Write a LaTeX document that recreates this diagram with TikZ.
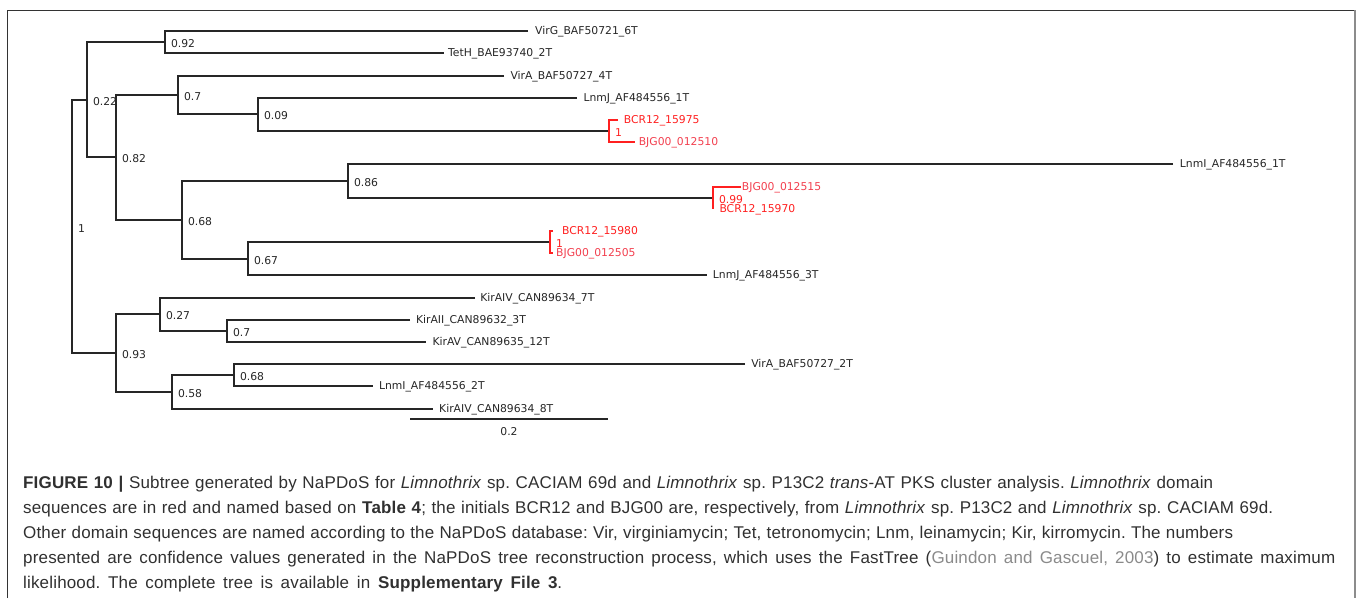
\documentclass[tikz,border=0pt]{standalone}
\usepackage{fontspec}
\setmainfont{Liberation Sans}[LetterSpace=1.0]
\newfontfamily\treefont{DejaVu Sans}
\definecolor{treeblack}{HTML}{262626}
\definecolor{treered}{HTML}{FF2020}
\definecolor{treepink}{HTML}{F2404F}
\definecolor{captxt}{HTML}{303030}
\definecolor{citegray}{HTML}{8A8A8A}
\definecolor{framedark}{HTML}{333333}
\definecolor{framegray}{HTML}{8C8C8C}
\hbadness=10000
\hfuzz=20pt
\frenchspacing
\begin{document}
\begin{tikzpicture}[x=1pt,y=-1pt,
  br/.style={draw=treeblack, line width=2pt},
  rbr/.style={draw=treered, line width=2pt},
  tlab/.style={font=\treefont\fontsize{10.8}{12}\selectfont, anchor=west, inner sep=0pt, text height=7.9pt, text depth=0pt, text=treeblack},
  rlab/.style={tlab, text=treered},
  plab/.style={tlab, text=treepink},
  sup/.style={tlab, xshift=5.8pt, yshift=-1.2pt},
  rsup/.style={sup, text=treered},
  caplab/.style={anchor=base west, inner sep=0pt, font=\fontsize{17}{25}\selectfont\frenchspacing, text=captxt}
]
\useasboundingbox (0,0) rectangle (1358,598);
% frame
\draw[draw=framedark, line width=1pt] (7.5,598) -- (7.5,10.5) -- (1355,10.5);
\draw[draw=framegray, line width=2pt] (1355,10) -- (1355,598);

% internal nodes
\coordinate (root) at (72,227);
\coordinate (n022) at (87,100);
\coordinate (n092) at (165,42);
\coordinate (n082) at (116,157);
\coordinate (n07) at (178,95);
\coordinate (n009) at (258,114);
\coordinate (nA) at (609,131);
\coordinate (n068) at (182,220);
\coordinate (n086) at (348,181);
\coordinate (nB) at (713,198);
\coordinate (n067) at (248,259);
\coordinate (nC) at (550,242);
\coordinate (n093) at (116,353);
\coordinate (n027) at (160,314);
\coordinate (n07b) at (227,331);
\coordinate (n058) at (172,392);
\coordinate (n068b) at (234,375);

% leaf branch ends
\coordinate (e0) at (528,31);
\coordinate (e1) at (444,53);
\coordinate (e2) at (504,76);
\coordinate (e3) at (577,98);
\coordinate (e4) at (618,120);
\coordinate (e5) at (635,142);
\coordinate (e6) at (1173,164);
\coordinate (e7) at (741,187);
\coordinate (e8) at (713,209);
\coordinate (e9) at (553,231);
\coordinate (e10) at (553,253);
\coordinate (e11) at (707,275);
\coordinate (e12) at (475,298);
\coordinate (e13) at (410,320);
\coordinate (e14) at (426,342);
\coordinate (e15) at (745,364);
\coordinate (e16) at (373,386);
\coordinate (e17) at (433,409);

% leaf labels
\node[tlab] (t0) at (535,31) {VirG\_BAF50721\_6T};
\node[tlab] (t1) at (448,53) {TetH\_BAE93740\_2T};
\node[tlab] (t2) at (510.3,76) {VirA\_BAF50727\_4T};
\node[tlab] (t3) at (583.3,98) {LnmJ\_AF484556\_1T};
\node[rlab] (t4) at (623.6,120) {BCR12\_15975};
\node[plab] (t5) at (638.6,142) {BJG00\_012510};
\node[tlab] (t6) at (1179.7,164) {LnmI\_AF484556\_1T};
\node[plab] (t7) at (741.7,187) {BJG00\_012515};
\node[rlab] (t8) at (719.3,209) {BCR12\_15970};
\node[rlab] (t9) at (562,231) {BCR12\_15980};
\node[plab] (t10) at (556,253) {BJG00\_012505};
\node[tlab] (t11) at (712.7,275) {LnmJ\_AF484556\_3T};
\node[tlab] (t12) at (480.1,298) {KirAIV\_CAN89634\_7T};
\node[tlab] (t13) at (415.8,320) {KirAII\_CAN89632\_3T};
\node[tlab] (t14) at (432.3,342) {KirAV\_CAN89635\_12T};
\node[tlab] (t15) at (751.1,364) {VirA\_BAF50727\_2T};
\node[tlab] (t16) at (378.8,386) {LnmI\_AF484556\_2T};
\node[tlab] (t17) at (439,409) {KirAIV\_CAN89634\_8T};

% branches
\draw[br] (e0) -| (n092) |- (e1);
\draw[br] (e3) -| (n009) |- (nA);
\draw[rbr] (e4) -| (nA) |- (e5);
\draw[br] (e2) -| (n07) |- (n009);
\draw[br] (n07) -| (n082) |- (n068);
\draw[br] (n092) -| (n022) |- (n082);
\draw[br] (e6) -| (n086) |- (nB);
\draw[rbr] (e7) -| (nB) |- (e8);
\draw[br] (nC) -| (n067) |- (e11);
\draw[rbr] (e9) -| (nC) |- (e10);
\draw[br] (n086) -| (n068) |- (n067);
\draw[br] (e12) -| (n027) |- (n07b);
\draw[br] (e13) -| (n07b) |- (e14);
\draw[br] (e15) -| (n068b) |- (e16);
\draw[br] (n068b) -| (n058) |- (e17);
\draw[br] (n027) -| (n093) |- (n058);
\draw[br] (n022) -| (root) |- (n093);

% support values
\node[sup] (lroot) at (root) {1};
\node[sup] (l022) at (n022) {0.22};
\node[sup] (l092) at (n092) {0.92};
\node[sup] (l082) at (n082) {0.82};
\node[sup] (l07) at (n07) {0.7};
\node[sup] (l009) at (n009) {0.09};
\node[rsup] (lA) at (nA) {1};
\node[sup] (l068) at (n068) {0.68};
\node[sup] (l086) at (n086) {0.86};
\node[rsup] (lB) at (nB) {0.99};
\node[sup] (l067) at (n067) {0.67};
\node[rsup] (lC) at (nC) {1};
\node[sup] (l093) at (n093) {0.93};
\node[sup] (l027) at (n027) {0.27};
\node[sup] (l07b) at (n07b) {0.7};
\node[sup] (l058) at (n058) {0.58};
\node[sup] (l068b) at (n068b) {0.68};

% scale bar
\coordinate (sb0) at (410,419);
\coordinate (sb1) at (608,419);
\draw[br] (sb0) -- (sb1);
\node[tlab, anchor=center] (sbl) at (509,431.5) {0.2};

% caption
\node[caplab] (c1) at (23,488) {\hbox to 1190pt{\textbf{FIGURE 10 |} Subtree generated by NaPDoS for \textit{Limnothrix} sp. CACIAM 69d and \textit{Limnothrix} sp. P13C2 \textit{trans}-AT PKS cluster analysis. \textit{Limnothrix} domain}};
\node[caplab] (c2) at (23,513) {\hbox to 1250pt{sequences are in red and named based on \textbf{Table 4}; the initials BCR12 and BJG00 are, respectively, from \textit{Limnothrix} sp. P13C2 and \textit{Limnothrix} sp. CACIAM 69d.}};
\node[caplab] (c3) at (23,538) {\hbox to 1210pt{Other domain sequences are named according to the NaPDoS database: Vir, virginiamycin; Tet, tetronomycin; Lnm, leinamycin; Kir, kirromycin. The numbers}};
\node[caplab] (c4) at (23,563) {\hbox to 1312pt{presented are confidence values generated in the NaPDoS tree reconstruction process, which uses the FastTree ({\color{citegray}Guindon and Gascuel, 2003}) to estimate maximum}};
\node[caplab] (c5) at (23,588) {\hbox to 539pt{likelihood. The complete tree is available in \textbf{Supplementary File 3}.}};
\end{tikzpicture}
\end{document}
